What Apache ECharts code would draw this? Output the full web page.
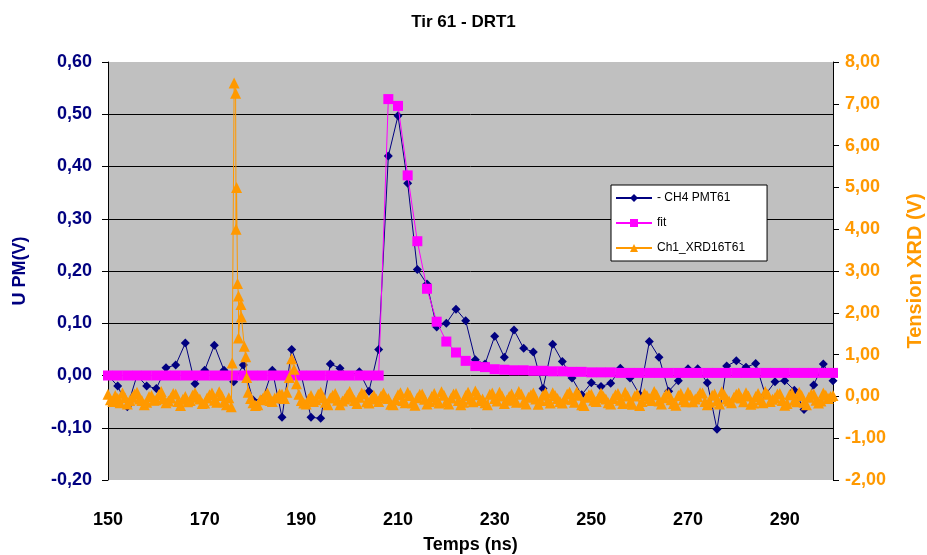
<!DOCTYPE html>
<html>
<head>
<meta charset="utf-8">
<script src="https://cdn.jsdelivr.net/npm/echarts@6/dist/echarts.min.js"></script>
<style>
  html, body { margin: 0; padding: 0; background: #fff; }
  #chart { width: 927px; height: 555px; }
</style>
</head>
<body>
<div id="chart"></div>
<script>
// time axis ticks (ns)
const xTicks = [150, 170, 190, 210, 230, 250, 270, 290];

// PMT signal and fit, one sample every 2 ns from 150 to 300
const pmtStart = 150, pmtStep = 2;
const pmtValues = [
  0.00, -0.02, -0.06, 0.00, -0.02, -0.025, 0.015, 0.02, 0.062, -0.016,
  0.01, 0.058, 0.01, -0.012, 0.02, -0.047, -0.045, 0.01, -0.08, 0.05,
  0.00, -0.08, -0.082, 0.022, 0.014, 0.00, 0.007, -0.03, 0.05, 0.42,
  0.497, 0.368, 0.203, 0.175, 0.093, 0.10, 0.127, 0.105, 0.03, 0.022,
  0.075, 0.035, 0.087, 0.052, 0.045, -0.025, 0.06, 0.027, -0.005, -0.037,
  -0.014, -0.021, -0.015, 0.014, -0.005, -0.037, 0.065, 0.035, -0.03, -0.01,
  0.013, 0.013, -0.014, -0.103, 0.018, 0.028, 0.016, 0.023, -0.037, -0.012,
  -0.01, -0.028, -0.065, -0.018, 0.022, -0.01
];
const fitValues = [
  0, 0, 0, 0, 0, 0, 0, 0, 0, 0,
  0, 0, 0, 0, 0, 0, 0, 0, 0, 0,
  0, 0, 0, 0, 0, 0, 0, 0, 0, 0.529,
  0.516, 0.383, 0.257, 0.166, 0.103, 0.065, 0.044, 0.028, 0.018, 0.016,
  0.012, 0.011, 0.010, 0.010, 0.009, 0.009, 0.008, 0.008, 0.007, 0.007,
  0.006, 0.006, 0.006, 0.005, 0.005, 0.005, 0.005, 0.005, 0.005, 0.005,
  0.005, 0.005, 0.005, 0.005, 0.005, 0.005, 0.005, 0.005, 0.005, 0.005,
  0.005, 0.005, 0.005, 0.005, 0.005, 0.005
];

// XRD signal: 0.5 ns samples before the spike (150..175.5) and after it (179..300)
const xrdStep = 0.5;
const xrdBefore = [
  0.05, -0.08, -0.12, 0.02, -0.05, -0.15, 0.08, -0.03, -0.18, -0.10,
  -0.02, 0.06, 0.10, -0.06, -0.10, -0.20, -0.14, 0.00, 0.02, -0.09,
  -0.08, 0.04, 0.12, -0.05, -0.15, -0.11, -0.04, 0.07, 0.06, -0.12,
  -0.22, -0.07, 0.00, -0.13, -0.10, 0.03, 0.09, -0.02, -0.06, -0.17,
  -0.16, -0.04, 0.04, 0.08, -0.09, -0.14, 0.11, 0.02, -0.13, -0.20,
  -0.03, -0.25
];
const xrdSpikeTimes = [175.7, 176.1, 176.4, 176.5, 176.6, 176.8, 177.0, 177.0, 177.5, 177.6, 178.2, 178.5, 178.7];
const xrdSpikeValues = [0.80, 7.50, 7.25, 4.00, 5.00, 2.70, 2.40, 1.40, 2.20, 1.90, 1.20, 0.95, 0.45];
const xrdAfter = [
  0.10, -0.05, -0.15, -0.22, -0.20, -0.08, -0.05, 0.03, 0.08, -0.10,
  -0.12, -0.04, -0.02, 0.06, 0.05, -0.05, 0.10, 0.45, 0.90, 0.65,
  0.30, 0.05, -0.10, -0.16, -0.18, -0.06, 0.02, -0.12, -0.08, 0.05,
  0.10, -0.03, -0.14, -0.20, -0.04, 0.03, 0.07, -0.09, -0.20, -0.11,
  -0.06, 0.04, 0.12, -0.02, -0.10, -0.17, -0.02, 0.08, 0.06, -0.13,
  -0.16, -0.05, 0.03, -0.06, -0.12, 0.01, 0.08, -0.04, -0.05, -0.19,
  -0.20, -0.08, 0.04, 0.09, -0.10, -0.15, 0.10, 0.02, -0.15, -0.21,
  -0.03, 0.05, 0.06, -0.07, -0.18, -0.12, 0.00, 0.07, -0.09, -0.16,
  0.11, 0.03, -0.12, -0.18, -0.04, 0.06, 0.07, -0.10, -0.20, -0.14,
  0.02, 0.10, -0.07, -0.13, 0.13, 0.04, -0.10, -0.06, -0.15, -0.20,
  0.05, 0.08, -0.05, -0.11, 0.10, 0.01, -0.17, -0.09, 0.00, 0.06,
  -0.08, -0.14, 0.12, 0.05, -0.13, -0.18, -0.02, 0.04, 0.08, -0.06,
  -0.19, -0.10, 0.03, 0.09, -0.10, -0.16, 0.09, 0.02, -0.05, -0.12,
  -0.16, -0.06, 0.06, 0.10, -0.07, -0.14, 0.11, 0.03, -0.20, -0.22,
  -0.02, 0.04, 0.05, -0.09, -0.12, -0.03, 0.08, 0.00, -0.06, -0.15,
  -0.18, -0.05, 0.04, 0.07, -0.09, -0.17, 0.10, 0.01, -0.14, -0.19,
  0.01, 0.06, -0.22, -0.12, 0.07, 0.02, -0.05, -0.10, 0.12, 0.04,
  -0.11, -0.18, -0.03, 0.05, 0.06, -0.08, -0.17, -0.21, 0.02, 0.07,
  -0.08, -0.13, 0.10, 0.03, -0.13, -0.06, -0.01, 0.09, 0.08, -0.12,
  -0.20, -0.14, 0.03, 0.06, -0.10, -0.18, 0.11, 0.04, -0.06, -0.11,
  -0.15, -0.02, 0.05, 0.08, -0.04, -0.13, 0.09, 0.01, -0.19, -0.16,
  0.00, 0.07, -0.08, -0.15, 0.12, 0.05, -0.12, -0.07, -0.03, 0.06,
  0.07, -0.10, -0.21, -0.17, 0.04, 0.08, -0.09, -0.13, 0.10, 0.02,
  -0.14, -0.20, -0.02, 0.05, 0.06, -0.09, -0.16, -0.11, 0.08, 0.03,
  -0.05, 0.00, 0.02
];

const pmtData = pmtValues.map((v, i) => [pmtStart + pmtStep * i, v]);
const fitData = fitValues.map((v, i) => [pmtStart + pmtStep * i, v]);
const xrdData = [].concat(
  xrdBefore.map((v, i) => [150 + xrdStep * i, v]),
  xrdSpikeValues.map((v, i) => [xrdSpikeTimes[i], v]),
  xrdAfter.map((v, i) => [179 + xrdStep * i, v])
);

const comma = d => v => v.toFixed(d).replace('.', ',');
const navy = '#000080', orange = '#FF9900', magenta = '#FF00FF';
const sans = 'Liberation Sans, Arial, sans-serif';

const chart = echarts.init(document.getElementById('chart'));
const option = {
  animation: false,
  backgroundColor: '#fff',
  title: {
    text: 'Tir 61 - DRT1',
    left: 'center',
    top: 9,
    textStyle: { fontFamily: sans, fontWeight: 'bold', fontSize: 17, color: '#000' }
  },
  grid: {
    left: 108, right: 94, top: 62, bottom: 75,
    outerBoundsMode: 'none',
    show: true, backgroundColor: '#C0C0C0', borderWidth: 0
  },
  legend: {
    orient: 'vertical',
    left: 611, top: 185,
    backgroundColor: '#fff',
    borderColor: '#000', borderWidth: 1,
    padding: [7, 22, 7, 4],
    itemWidth: 36, itemHeight: 10, itemGap: 13,
    textStyle: { fontFamily: sans, fontSize: 12, color: '#000' },
    data: ['- CH4 PMT61', 'fit', 'Ch1_XRD16T61']
  },
  xAxis: {
    type: 'value',
    min: 150, max: 300,
    name: 'Temps (ns)',
    nameLocation: 'middle',
    nameGap: 56,
    nameTextStyle: { fontFamily: sans, fontWeight: 'bold', fontSize: 18, color: '#000' },
    axisLine: { show: false },
    axisTick: { show: false },
    splitLine: { show: false },
    axisLabel: {
      customValues: xTicks,
      margin: 31,
      fontFamily: sans, fontWeight: 'bold', fontSize: 18, color: '#000'
    }
  },
  yAxis: [
    {
      type: 'value',
      min: -0.2, max: 0.6, interval: 0.1,
      name: 'U PM(V)',
      nameLocation: 'middle', nameRotate: 90, nameGap: 79,
      nameTextStyle: { fontFamily: sans, fontWeight: 'bold', fontSize: 18, color: navy },
      axisLine: { show: true, lineStyle: { color: '#000', width: 1 } },
      axisTick: { show: true, inside: false, length: 6, lineStyle: { color: '#000' } },
      splitLine: { show: true, showMinLine: false, showMaxLine: false, lineStyle: { color: '#000', width: 1 } },
      axisLabel: {
        formatter: comma(2), margin: 16,
        fontFamily: sans, fontWeight: 'bold', fontSize: 18, color: navy
      }
    },
    {
      type: 'value',
      min: -2, max: 8, interval: 1,
      position: 'right',
      name: 'Tension XRD (V)',
      nameLocation: 'middle', nameRotate: 90, nameGap: 72,
      nameTextStyle: { fontFamily: sans, fontWeight: 'bold', fontSize: 20, color: orange },
      axisLine: { show: true, lineStyle: { color: '#000', width: 1 } },
      axisTick: { show: true, inside: false, length: 6, lineStyle: { color: '#000' } },
      splitLine: { show: false },
      axisLabel: {
        formatter: comma(2), margin: 12,
        fontFamily: sans, fontWeight: 'bold', fontSize: 18, color: orange
      }
    }
  ],
  series: [
    {
      name: '- CH4 PMT61',
      type: 'line',
      yAxisIndex: 0,
      data: pmtData,
      showAllSymbol: true,
      symbol: 'diamond', symbolSize: 9,
      lineStyle: { color: navy, width: 1 },
      itemStyle: { color: navy },
      z: 2
    },
    {
      name: 'fit',
      type: 'line',
      yAxisIndex: 0,
      data: fitData,
      showAllSymbol: true,
      symbol: 'rect', symbolSize: 10,
      lineStyle: { color: magenta, width: 1 },
      itemStyle: { color: magenta },
      z: 3
    },
    {
      name: 'Ch1_XRD16T61',
      type: 'line',
      yAxisIndex: 1,
      data: xrdData,
      showAllSymbol: true,
      symbol: 'triangle', symbolSize: 11,
      lineStyle: { color: orange, width: 1 },
      itemStyle: { color: orange },
      z: 4
    }
  ]
};
chart.setOption(option);
</script>
</body>
</html>
